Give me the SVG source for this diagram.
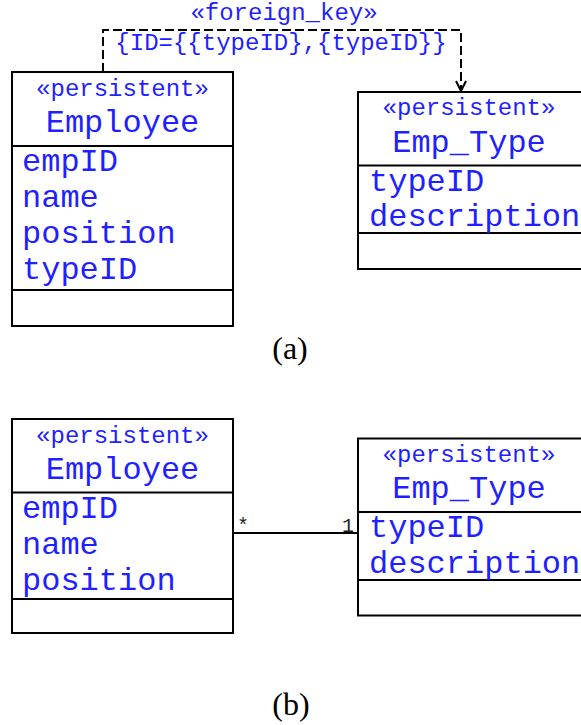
<svg xmlns="http://www.w3.org/2000/svg" width="581" height="725" viewBox="0 0 581 725">
  <style>
    .box { fill: #ffffff; stroke: #000000; stroke-width: 2; }
    .div { stroke: #000000; stroke-width: 2; }
    .mono { font-family: "Liberation Mono", "Courier New", monospace; fill: #1f1fff; }
    .stereo { font-size: 24px; text-anchor: middle; }
    .name { font-size: 32px; text-anchor: middle; }
    .attr { font-size: 32px; }
    .mult { font-family: "Liberation Mono", "Courier New", monospace; font-size: 20px; fill: #222222; }
    .caption { font-family: "Liberation Serif", "Times New Roman", serif; font-size: 32px; fill: #000000; text-anchor: middle; }
    .dep { fill: none; stroke: #000000; stroke-width: 2; stroke-dasharray: 9 4; }
    .assoc { fill: none; stroke: #000000; stroke-width: 2; }
  </style>
  <defs>
    <marker id="open-arrow" markerWidth="14" markerHeight="14" refX="12" refY="6" orient="auto" markerUnits="userSpaceOnUse">
      <path d="M2,1 L12,6 L2,11" fill="none" stroke="#000000" stroke-width="2"/>
    </marker>
  </defs>

  <!-- (a) foreign key dependency -->
  <g id="connectors">
    <path class="dep" d="M103,72 L103,30 L461,30 L461,91" marker-end="url(#open-arrow)"/>
    <text class="mono" x="284" y="20" font-size="24" text-anchor="middle">«foreign_key»</text>
    <text class="mono" x="281" y="50" font-size="24" text-anchor="middle">{ID={{typeID},{typeID}}</text>

    <!-- (b) association -->
    <line class="assoc" x1="233" y1="533" x2="358" y2="533"/>
    <text class="mult" x="243" y="532" text-anchor="middle">*</text>
    <text class="mult" x="354" y="532" text-anchor="end">1</text>
  </g>

  <!-- (a) Employee -->
  <g id="employee-a">
    <rect class="box" x="12" y="72" width="221" height="254"/>
    <line class="div" x1="12" y1="146" x2="233" y2="146"/>
    <line class="div" x1="12" y1="290" x2="233" y2="290"/>
    <text class="mono stereo" x="122.5" y="96">«persistent»</text>
    <text class="mono name" x="122.5" y="132">Employee</text>
    <text class="mono attr" x="22" y="171">empID</text>
    <text class="mono attr" x="22" y="207">name</text>
    <text class="mono attr" x="22" y="243">position</text>
    <text class="mono attr" x="22" y="279">typeID</text>
  </g>

  <!-- (a) Emp_Type -->
  <g id="emptype-a">
    <rect class="box" x="358" y="92" width="232" height="177"/>
    <line class="div" x1="358" y1="165.5" x2="590" y2="165.5"/>
    <line class="div" x1="358" y1="233" x2="590" y2="233"/>
    <text class="mono stereo" x="469" y="115">«persistent»</text>
    <text class="mono name" x="469" y="152">Emp_Type</text>
    <text class="mono attr" x="369" y="191">typeID</text>
    <text class="mono attr" x="369" y="226">description</text>
  </g>

  <text class="caption" x="290" y="359">(a)</text>

  <!-- (b) Employee -->
  <g id="employee-b">
    <rect class="box" x="12" y="419" width="221" height="214"/>
    <line class="div" x1="12" y1="492.5" x2="233" y2="492.5"/>
    <line class="div" x1="12" y1="599" x2="233" y2="599"/>
    <text class="mono stereo" x="122.5" y="443">«persistent»</text>
    <text class="mono name" x="122.5" y="479">Employee</text>
    <text class="mono attr" x="22" y="518">empID</text>
    <text class="mono attr" x="22" y="554">name</text>
    <text class="mono attr" x="22" y="590">position</text>
  </g>

  <!-- (b) Emp_Type -->
  <g id="emptype-b">
    <rect class="box" x="358" y="438.5" width="232" height="177"/>
    <line class="div" x1="358" y1="512" x2="590" y2="512"/>
    <line class="div" x1="358" y1="580" x2="590" y2="580"/>
    <text class="mono stereo" x="469" y="462">«persistent»</text>
    <text class="mono name" x="469" y="498">Emp_Type</text>
    <text class="mono attr" x="369" y="537">typeID</text>
    <text class="mono attr" x="369" y="573">description</text>
  </g>

  <text class="caption" x="291" y="715">(b)</text>
</svg>
